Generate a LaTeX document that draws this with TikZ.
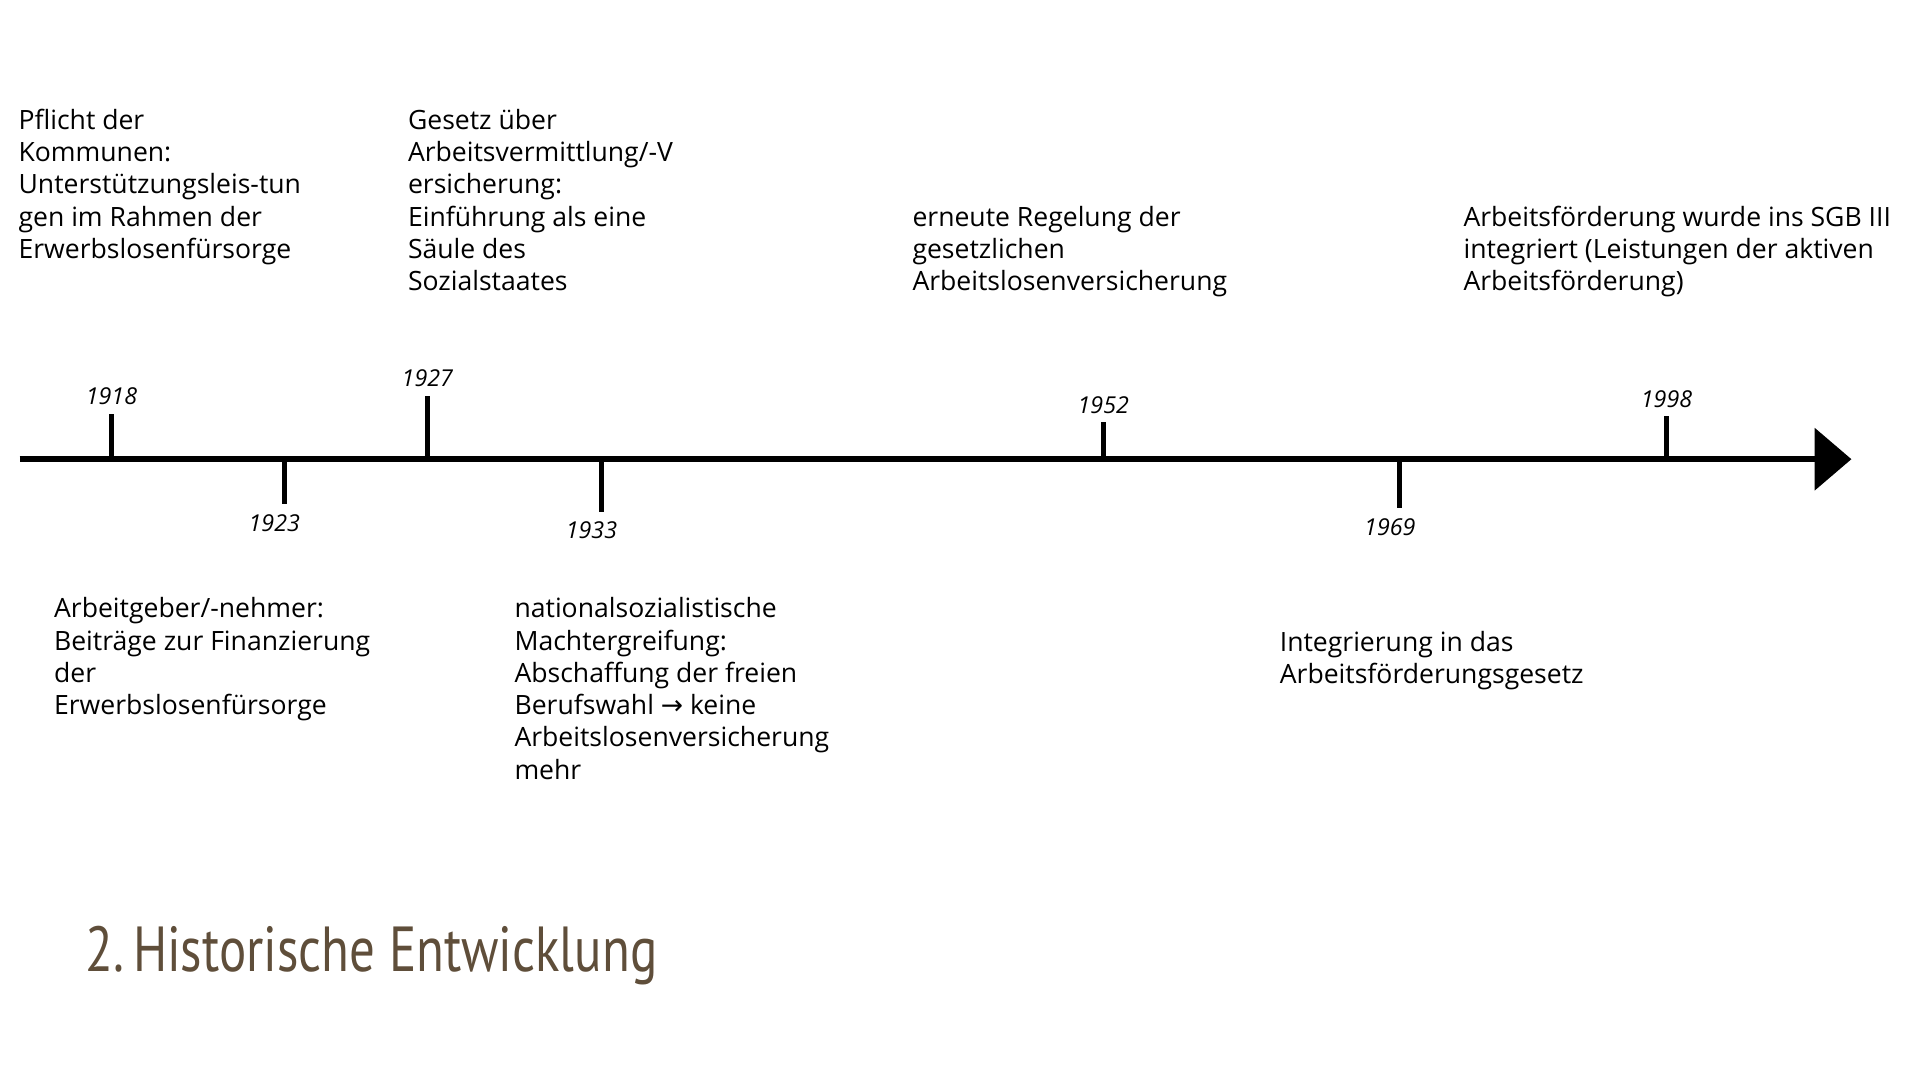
\documentclass[tikz,border=0pt]{standalone}
\usepackage{fontspec}
\setmainfont{Open Sans}
\newfontfamily\titlefont{PT Sans}
\usetikzlibrary{arrows.meta}
\definecolor{titlebrown}{RGB}{95,78,58}
\begin{document}
\begin{tikzpicture}[x=1pt,y=-1pt,
    event/.style={anchor=north west,align=left,inner sep=0pt,font=\fontsize{21.7}{26.3}\selectfont},
    year/.style={font=\fontsize{19}{20}\itshape\selectfont,inner sep=0pt},
    tick/.style={line width=4pt}
    ]
    \useasboundingbox (0,0) rectangle (1568,882);

    % axis:
    \coordinate (start) at (16,375);
    \coordinate (end) at (1512,375);
    \draw[line width=5pt,-{Triangle[length=30pt,width=50pt]}] (start) -- (end);

    % ticks above:
    \foreach \x/\t/\yr in {91/338/1918, 349/323/1927, 901/345/1952, 1361/340/1998}{
      \coordinate (t\yr) at (\x,\t);
      \draw[tick] (\x,375) -- (t\yr);
      \node[year,anchor=south] (y\yr) at ([yshift=7pt]t\yr) {\yr};
    }
    % ticks below:
    \foreach \x/\t/\yr in {232/412/1923, 491/418/1933, 1143/415/1969}{
      \coordinate (t\yr) at (\x,\t);
      \draw[tick] (\x,375) -- (t\yr);
      \node[year,anchor=north] (y\yr) at ([xshift=-8pt,yshift=-8pt]t\yr) {\yr};
    }

    % events:
    \node[event] (e1918) at (15,89) {Pflicht der\\Kommunen:\\Unterstützungsleis-tun\\gen im Rahmen der\\Erwerbslosenfürsorge};
    \node[event] (e1927) at (333,89) {Gesetz über\\Arbeitsvermittlung/-V\\ersicherung:\\Einführung als eine\\Säule des\\Sozialstaates};
    \node[event] (e1952) at (745,168) {erneute Regelung der\\gesetzlichen\\Arbeitslosenversicherung};
    \node[event] (e1998) at (1195,168) {Arbeitsförderung wurde ins SGB III\\integriert (Leistungen der aktiven\\Arbeitsförderung)};
    \node[event] (e1923) at (44,488) {Arbeitgeber/-nehmer:\\Beiträge zur Finanzierung\\der\\Erwerbslosenfürsorge};
    \node[event] (e1933) at (420,488) {nationalsozialistische\\Machtergreifung:\\Abschaffung der freien\\Berufswahl {\fontspec{DejaVu Sans}→} keine\\Arbeitslosenversicherung\\mehr};
    \node[event] (e1969) at (1045,515) {Integrierung in das\\Arbeitsförderungsgesetz};

    % title:
    \node[anchor=west,inner sep=0pt,text=titlebrown,xscale=0.8,transform shape=false] (title) at (70,780)
      {\titlefont\fontsize{52}{60}\selectfont 2.\,Historische Entwicklung};
\end{tikzpicture}
\end{document}
